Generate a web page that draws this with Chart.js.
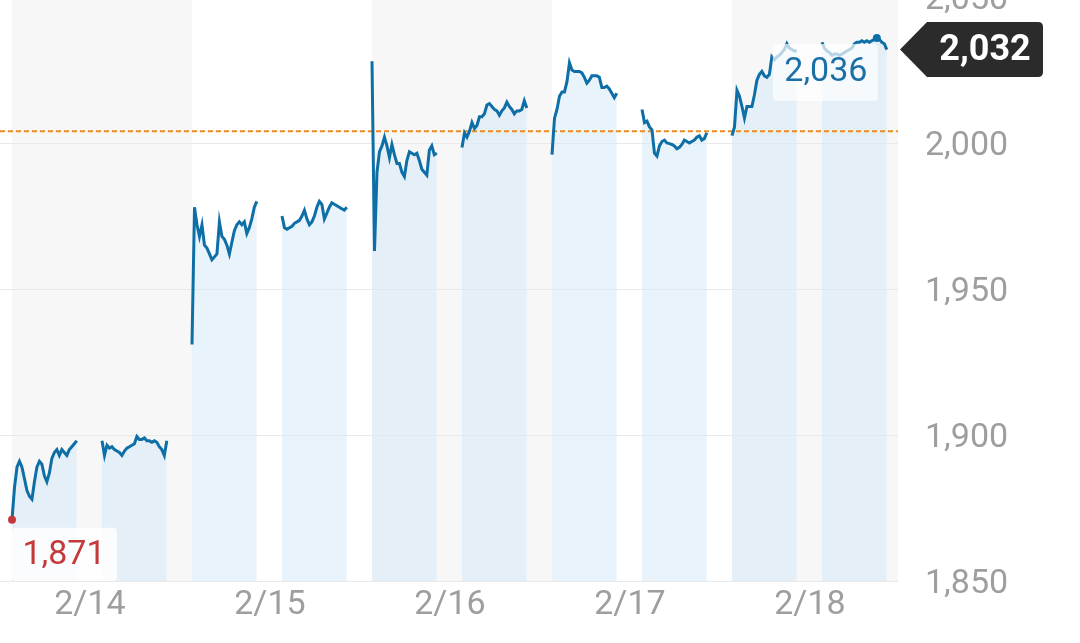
<!DOCTYPE html>
<html>
<head>
<meta charset="utf-8">
<script src="https://cdn.jsdelivr.net/npm/chart.js@4.4.1/dist/chart.umd.min.js"></script>
<style>
  html, body { margin: 0; padding: 0; background: #fff; }
  #wrap { position: relative; width: 1080px; height: 643px; overflow: hidden; }
  #chart { position: absolute; left: 0; top: -3px; }
</style>
</head>
<body>
<div id="wrap"><canvas id="chart" width="1080" height="646"></canvas></div>
<script>
// days and axis ticks
const dayLabels = ['2/14', '2/15', '2/16', '2/17', '2/18'];
const yTicks = [1850, 1900, 1950, 2000, 2050];
const prevClose = 2004;

// intraday prices, one array per session (morning / afternoon)
const feb14am = [1871, 1882, 1889, 1891, 1889, 1885, 1881, 1879, 1878, 1884, 1889, 1891, 1890, 1886, 1884, 1887, 1892, 1894, 1895, 1893, 1895, 1894, 1893, 1895, 1896, 1897, 1898];
const feb14pm = [1898, 1893, 1896.5, 1895.5, 1896, 1895, 1894.5, 1894, 1893, 1894.5, 1895.5, 1896, 1896.5, 1897, 1899.5, 1898.5, 1898.5, 1899, 1898, 1898, 1897.5, 1898, 1897.5, 1896, 1895, 1893, 1898];
const feb15am = [1931, 1978, 1972, 1968, 1972, 1965, 1964, 1962, 1960, 1961, 1962, 1973, 1968, 1967, 1965, 1962, 1966, 1970, 1972, 1973, 1972, 1973, 1969, 1971, 1974, 1978, 1980];
const feb15pm = [1975, 1971, 1970.5, 1971, 1971.5, 1972.5, 1973, 1973.5, 1975, 1977, 1974, 1972, 1973, 1975, 1978, 1980, 1979, 1974, 1976, 1978, 1979.5, 1979, 1978.5, 1978, 1977.5, 1977, 1978];
const feb16am = [2028, 1963, 1990, 1997, 1999, 2002, 1999, 1995, 1999.5, 1996, 1993, 1993, 1990, 1988.5, 1994, 1997, 1996.5, 1996, 1996.5, 1994, 1991, 1990, 1989, 1997.5, 1999, 1996, 1996.5];
const feb16pm = [1998.5, 2003.5, 2002, 2004, 2007, 2005, 2006, 2009, 2009, 2010, 2013, 2013.5, 2012.5, 2011.5, 2011, 2009.5, 2011, 2012, 2014, 2012.5, 2011.5, 2010, 2011, 2011, 2011.5, 2014.5, 2012];
const feb17am = [1996, 2008.5, 2011.5, 2016, 2017.5, 2017.5, 2021, 2027.5, 2025, 2024.5, 2024.5, 2024.5, 2024, 2022.5, 2020.5, 2021.5, 2023, 2023, 2023, 2022.5, 2019, 2019, 2019.5, 2018.5, 2017, 2015.5, 2017];
const feb17pm = [2011.5, 2007, 2007.5, 2005.5, 2004.5, 1996.5, 1995.5, 1999, 2000.5, 2001, 2000, 1999.8, 1999.5, 1999, 1998, 1998.5, 1999.5, 2001, 2000.5, 2000, 2000.5, 2001, 2002, 2002.5, 2001, 2001.5, 2003.5];
const feb18am = [2002.5, 2005.5, 2018, 2016, 2012.5, 2008.5, 2012.5, 2012.5, 2012.5, 2016.5, 2021.5, 2023.5, 2024.5, 2023, 2022.5, 2023.5, 2029.5, 2028.5, 2029.5, 2030, 2031, 2032, 2034, 2032.5, 2032, 2031.5, 2031.5];
const feb18pm = [2034.5, 2032.5, 2031.5, 2031, 2030, 2030.5, 2030.5, 2030, 2030.5, 2031, 2031.5, 2032, 2032.5, 2034, 2034.5, 2034.5, 2035, 2034.5, 2035, 2034.5, 2035, 2035.5, 2036, 2035.5, 2034.5, 2034, 2032];

const sessions = [feb14am, feb14pm, feb15am, feb15pm, feb16am, feb16pm, feb17am, feb17pm, feb18am, feb18pm];

const LINE = '#0e6ea6';
const FILL = 'rgba(214,234,247,0.55)';
const RED = '#c43a3c';
const GRAY_TXT = '#9e9e9e';
const FONT = 'Roboto, "Noto Sans", sans-serif';

// session placement inside a day (fraction of a day)
const sessionStart = [0, 0.5];
const sessionLen = 0.36;

function sessionPoints(vals, s) {
    const x0 = Math.floor(s / 2) + sessionStart[s % 2];
    return vals.map((v, i) => ({ x: x0 + i * sessionLen / (vals.length - 1), y: v }));
}

// find low / high / last
let low = { v: Infinity }, high = { v: -Infinity };
sessions.forEach((vals, s) => vals.forEach((v, i) => {
    if (v < low.v) low = { v, s, i };
    if (v > high.v) high = { v, s, i };
}));
const lastS = sessions.length - 1;
const last = { v: sessions[lastS][sessions[lastS].length - 1] };

const fmt = v => v.toLocaleString('en-US');

const datasets = sessions.map((vals, s) => ({
    data: sessionPoints(vals, s),
    borderColor: LINE,
    borderWidth: 3,
    backgroundColor: FILL,
    fill: 'start',
    tension: 0,
    pointRadius: ctx => ((s === low.s && ctx.dataIndex === low.i) || (s === high.s && ctx.dataIndex === high.i)) ? 4 : 0,
    pointBackgroundColor: s === low.s ? RED : LINE,
    pointBorderWidth: 0
}));

// alternating day bands + previous close line (over the fills, under the lines)
const bandsPlugin = {
    id: 'bands',
    beforeDraw(chart) {
        const { ctx, chartArea: a, scales: { x } } = chart;
        ctx.save();
        ctx.fillStyle = '#f7f7f7';
        for (let d = 0; d < dayLabels.length; d += 2) {
            const x1 = x.getPixelForValue(d);
            const x2 = Math.min(x.getPixelForValue(d + 1), a.right);
            ctx.fillRect(x1, a.top, x2 - x1, a.bottom - a.top);
        }
        ctx.restore();
    },
    beforeDatasetsDraw(chart) {
        const { ctx, chartArea: a, scales: { y } } = chart;
        const py = y.getPixelForValue(prevClose);
        ctx.save();
        ctx.strokeStyle = '#ee8a24';
        ctx.lineWidth = 2;
        ctx.setLineDash([5, 3]);
        ctx.beginPath();
        ctx.moveTo(a.left, py);
        ctx.lineTo(a.right, py);
        ctx.stroke();
        ctx.restore();
    }
};

// low / high boxes and last price tag
const labelsPlugin = {
    id: 'labels',
    afterDatasetsDraw(chart) {
        const { ctx, chartArea: a } = chart;
        const meta = s => chart.getDatasetMeta(s).data;
        ctx.save();
        ctx.textAlign = 'center';
        ctx.textBaseline = 'middle';

        const lp = meta(low.s)[low.i];
        ctx.fillStyle = 'rgba(255,255,255,0.8)';
        ctx.beginPath();
        ctx.roundRect(lp.x, lp.y + 8, 105, a.bottom - lp.y - 8, 4);
        ctx.fill();
        ctx.fillStyle = RED;
        ctx.font = '34px ' + FONT;
        ctx.fillText(fmt(low.v), lp.x + 52, lp.y + 8 + (a.bottom - lp.y - 8) / 2 + 1);

        const hp = meta(high.s)[high.i];
        ctx.fillStyle = 'rgba(255,255,255,0.7)';
        ctx.beginPath();
        ctx.roundRect(hp.x - 104, hp.y + 6, 105, 57, 4);
        ctx.fill();
        ctx.fillStyle = '#1a70a6';
        ctx.fillText(fmt(high.v), hp.x - 51, hp.y + 6 + 29);

        const ly = chart.scales.y.getPixelForValue(last.v);
        const tip = a.right + 2, bx = tip + 27, br = 1043, h = 27.5, r = 5;
        ctx.fillStyle = '#2b2b2b';
        ctx.beginPath();
        ctx.moveTo(tip, ly);
        ctx.lineTo(bx, ly - h);
        ctx.lineTo(br - r, ly - h);
        ctx.quadraticCurveTo(br, ly - h, br, ly - h + r);
        ctx.lineTo(br, ly + h - r);
        ctx.quadraticCurveTo(br, ly + h, br - r, ly + h);
        ctx.lineTo(bx, ly + h);
        ctx.closePath();
        ctx.fill();
        ctx.fillStyle = '#fff';
        ctx.font = 'bold 36px ' + FONT;
        ctx.fillText(fmt(last.v), (bx + br) / 2, ly + 1);
        ctx.restore();
    }
};

new Chart(document.getElementById('chart'), {
    type: 'line',
    data: { datasets },
    plugins: [bandsPlugin, labelsPlugin],
    options: {
        responsive: false,
        animation: false,
        devicePixelRatio: 1,
        layout: { padding: 0, autoPadding: false },
        plugins: {
            legend: { display: false },
            tooltip: { enabled: false },
            filler: { drawTime: 'beforeDatasetsDraw' }
        },
        scales: {
            x: {
                type: 'linear',
                min: -12 / 180,
                max: 886 / 180,
                afterBuildTicks: s => { s.ticks = dayLabels.map((_, d) => ({ value: d + 0.433 })); },
                afterFit: s => { s.height = 62; s.paddingLeft = 0; s.paddingRight = 0; },
                grid: { display: false, drawTicks: false },
                border: { display: false },
                ticks: {
                    autoSkip: false, maxRotation: 0, padding: 4,
                    color: GRAY_TXT, font: { family: FONT, size: 34 },
                    callback: (v, i) => dayLabels[i]
                }
            },
            y: {
                position: 'right',
                min: 1850,
                max: 2050,
                afterBuildTicks: s => { s.ticks = yTicks.map(v => ({ value: v })); },
                afterFit: s => { s.width = 182; s.paddingTop = 0; s.paddingBottom = 0; },
                grid: { color: '#e9e9e9', lineWidth: 1, drawTicks: false },
                border: { display: false },
                ticks: {
                    padding: 27, labelOffset: 3,
                    color: GRAY_TXT, font: { family: FONT, size: 34 },
                    callback: v => fmt(v)
                }
            }
        }
    }
});
</script>
</body>
</html>
